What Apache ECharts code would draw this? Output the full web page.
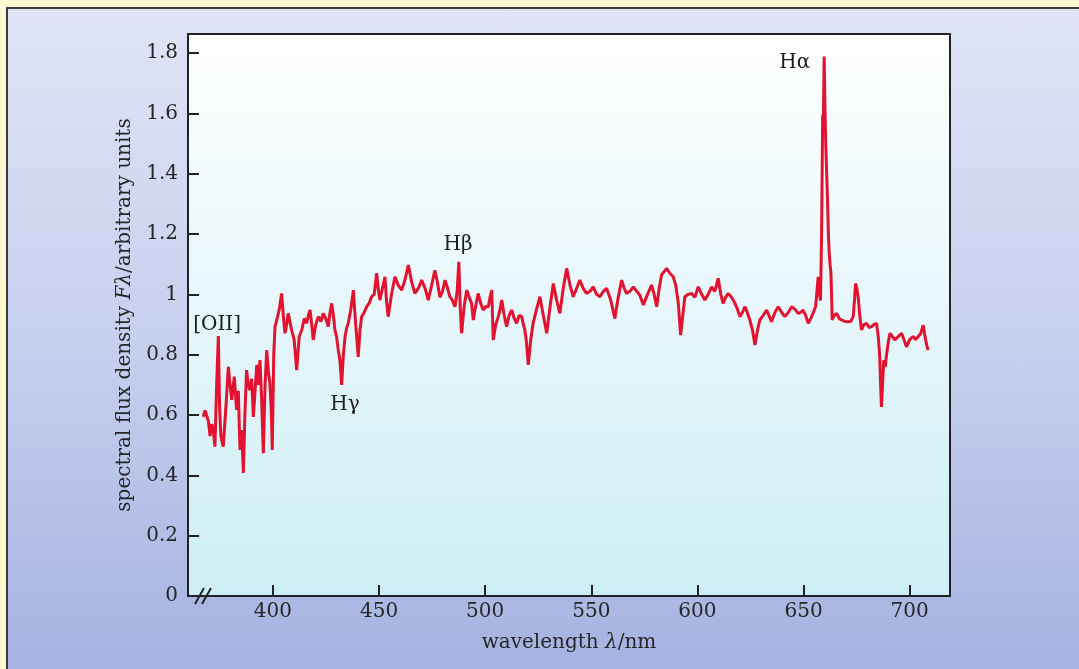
<!DOCTYPE html>
<html>
<head>
<meta charset="utf-8">
<script src="https://cdn.jsdelivr.net/npm/echarts@6/dist/echarts.min.js"></script>
<style>
html,body{margin:0;padding:0;width:1079px;height:669px;overflow:hidden;background:#fcf8cf;}
#panel{position:absolute;left:6px;top:7px;width:1090px;height:680px;border-left:2px solid #3a3a3a;border-top:2px solid #3a3a3a;background:linear-gradient(to bottom,#e0e4f6 0%,#c6cfee 50%,#a3b1e1 100%);}
#chart{position:absolute;left:0;top:0;width:1079px;height:669px;}
</style>
</head>
<body>
<div id="panel"></div>
<div id="chart"></div>
<script>
// wavelength in nm
const wavelength = [
367.2,368.0,368.8,369.6,370.4,371.2,371.9,372.7,373.5,374.3,374.9,375.5,376.6,377.8,379.0,379.8,380.6,381.8,382.9,383.7,
384.5,385.3,386.1,386.8,387.6,388.4,389.2,390.0,390.8,391.6,392.4,393.1,393.9,394.7,395.5,396.3,397.1,397.9,398.6,399.2,
399.7,400.4,401.0,402.0,403.0,404.1,404.9,405.7,406.5,407.2,408.0,408.8,410.0,411.2,412.4,413.6,414.8,415.9,416.7,417.5,
418.3,419.0,420.2,421.4,422.6,423.7,424.9,426.1,426.9,427.7,428.5,429.2,430.0,430.8,431.6,432.4,433.2,434.0,434.8,435.5,
436.7,437.9,439.0,440.2,441.0,441.8,443.0,444.2,445.3,446.5,447.7,448.9,449.6,450.4,451.6,452.8,453.5,454.3,455.9,457.5,
459.1,460.7,462.3,463.8,465.4,466.9,468.5,470.1,471.7,473.2,474.8,476.3,477.5,478.7,479.9,481.1,482.3,483.4,484.6,485.8,
486.8,487.6,488.3,488.9,490.1,491.3,492.5,493.6,494.4,495.5,496.7,497.9,499.1,500.3,501.5,502.3,503.1,503.8,505.0,506.2,
507.0,507.8,509.0,510.1,511.3,512.5,513.7,514.8,516.0,517.2,518.0,518.7,519.5,520.3,521.5,522.6,524.2,525.8,527.4,529.0,
530.6,532.1,533.7,535.2,536.8,538.4,540.0,541.5,543.1,544.6,546.2,547.8,549.4,550.9,552.5,554.1,555.7,557.2,559.2,561.1,
562.7,564.3,565.5,566.6,568.2,569.8,571.4,572.9,574.5,576.5,578.4,579.6,580.8,582.0,583.1,585.5,587.0,588.6,589.8,591.0,
592.1,593.1,594.1,595.7,597.3,598.8,600.4,602.0,603.5,605.1,606.7,608.2,609.8,611.0,612.1,613.3,614.5,616.1,617.7,618.9,
620.0,621.2,622.4,623.5,624.7,626.0,627.1,628.3,629.4,631.0,632.6,633.7,634.9,636.5,638.1,639.7,641.2,642.8,644.4,646.0,
647.5,648.7,649.8,651.0,652.2,653.4,654.5,655.7,656.9,657.5,658.0,658.5,659.0,659.4,659.7,660.1,660.5,660.9,661.3,661.7,
662.1,662.5,662.9,663.2,663.5,664.5,665.6,666.8,667.9,669.5,671.0,672.2,673.4,674.0,674.5,675.1,675.7,676.5,677.3,678.5,
679.7,680.9,682.0,683.2,684.4,685.2,685.9,686.3,686.7,687.2,687.8,688.5,689.1,689.9,690.7,691.9,693.0,694.6,696.2,697.3,
698.5,700.0,701.6,702.8,704.0,705.2,706.4,707.0,707.5,708.1,708.7
];
// spectral flux density (arbitrary units)
const flux = [
0.594,0.615,0.620,0.580,0.530,0.570,0.550,0.495,0.700,0.862,0.620,0.530,0.495,0.620,0.760,0.700,0.650,0.727,0.617,0.680,
0.484,0.550,0.408,0.600,0.749,0.700,0.683,0.720,0.594,0.680,0.766,0.700,0.782,0.650,0.473,0.700,0.815,0.740,0.705,0.620,
0.484,0.800,0.893,0.920,0.950,1.003,0.930,0.871,0.900,0.937,0.910,0.882,0.850,0.749,0.860,0.882,0.920,0.904,0.930,0.948,
0.900,0.849,0.900,0.926,0.910,0.937,0.920,0.893,0.940,0.970,0.930,0.882,0.860,0.815,0.780,0.700,0.800,0.860,0.890,0.904,
0.950,1.014,0.900,0.793,0.880,0.926,0.940,0.959,0.970,0.992,1.000,1.070,1.020,0.981,1.020,1.058,0.980,0.926,1.000,1.058,
1.030,1.014,1.050,1.097,1.040,1.003,1.020,1.047,1.020,0.981,1.030,1.080,1.040,0.990,1.010,1.047,1.020,0.992,0.980,0.959,
1.010,1.108,0.950,0.871,0.960,1.014,0.990,0.970,0.915,0.960,1.003,0.970,0.948,0.960,0.959,0.990,1.014,0.849,0.900,0.926,
0.950,0.981,0.930,0.893,0.930,0.948,0.920,0.904,0.930,0.926,0.900,0.882,0.840,0.766,0.850,0.904,0.950,0.992,0.930,0.871,
0.960,1.036,0.980,0.937,1.020,1.086,1.030,0.992,1.020,1.047,1.020,1.003,1.010,1.025,1.000,0.992,1.010,1.020,0.980,0.920,
0.990,1.047,1.020,1.003,1.010,1.025,1.010,0.997,0.965,1.000,1.031,1.000,0.959,1.020,1.064,1.086,1.070,1.058,1.030,0.970,
0.865,0.930,0.992,1.000,1.003,0.990,1.025,1.000,0.981,1.000,1.025,1.010,1.053,1.000,0.970,0.990,1.003,0.990,0.970,0.950,
0.926,0.940,0.959,0.940,0.915,0.880,0.832,0.880,0.915,0.930,0.948,0.930,0.909,0.940,0.959,0.940,0.926,0.940,0.959,0.950,
0.937,0.940,0.948,0.930,0.904,0.920,0.937,0.960,1.058,1.000,0.980,1.200,1.589,1.600,1.788,1.620,1.489,1.400,1.313,1.200,
1.136,1.100,1.070,1.000,0.915,0.930,0.937,0.920,0.915,0.910,0.909,0.910,0.926,0.980,1.036,1.020,0.992,0.930,0.882,0.900,
0.904,0.890,0.893,0.900,0.904,0.860,0.793,0.700,0.627,0.700,0.782,0.760,0.800,0.840,0.871,0.860,0.849,0.860,0.871,0.850,
0.826,0.850,0.860,0.850,0.860,0.870,0.898,0.870,0.850,0.830,0.815
];
const xTicks = [400, 450, 500, 550, 600, 650, 700];
const yTicks = [0, 0.2, 0.4, 0.6, 0.8, 1, 1.2, 1.4, 1.6, 1.8];
const lineNames = ['[OII]', 'Hγ', 'Hβ', 'Hα'];
const lineNameX = [373.7, 434.0, 487.2, 645.9];
const lineNameY = [0.898, 0.633, 1.163, 1.767];

const FONT = 'DejaVu Serif';
const FS = 20;
const TXT = '#262626';
const chart = echarts.init(document.getElementById('chart'), null, {renderer: 'canvas'});
const spectrum = wavelength.map((w, i) => [w, flux[i]]);
const labels = lineNames.map((n, i) => ({name: n, value: [lineNameX[i], lineNameY[i]]}));

chart.setOption({
  backgroundColor: 'transparent',
  animation: false,
  grid: {
    left: 188, right: 129, top: 34, bottom: 73,
    show: true,
    borderColor: '#222', borderWidth: 2,
    backgroundColor: {type: 'linear', x: 0, y: 0, x2: 0, y2: 1,
      colorStops: [{offset: 0, color: '#ffffff'}, {offset: 1, color: '#cdeef6'}]}
  },
  xAxis: {
    type: 'value', min: 360, max: 719,
    axisLine: {show: true, lineStyle: {color: '#222', width: 2}},
    axisTick: {show: true, inside: true, length: 11, customValues: xTicks, lineStyle: {color: '#222', width: 2}},
    axisLabel: {customValues: xTicks, fontFamily: FONT, fontSize: FS, color: TXT, margin: 6},
    splitLine: {show: false},
    name: 'wavelength {i|λ}/nm', nameLocation: 'middle', nameGap: 37,
    nameTextStyle: {fontFamily: FONT, fontSize: FS, color: TXT,
      rich: {i: {fontFamily: FONT, fontSize: FS, fontStyle: 'italic', color: TXT}}}
  },
  yAxis: {
    type: 'value', min: 0, max: 1.863,
    axisLine: {show: true, lineStyle: {color: '#222', width: 2}},
    axisTick: {show: true, inside: true, length: 11, customValues: yTicks, lineStyle: {color: '#222', width: 2}},
    axisLabel: {customValues: yTicks, fontFamily: FONT, fontSize: FS, color: TXT, margin: 10},
    splitLine: {show: false},
    name: 'spectral flux density {i|Fλ}/arbitrary units', nameLocation: 'middle', nameGap: 53,
    nameTextStyle: {fontFamily: FONT, fontSize: FS, color: TXT,
      rich: {i: {fontFamily: FONT, fontSize: FS, fontStyle: 'italic', color: TXT}}}
  },
  series: [
    {
      type: 'line', data: spectrum, showSymbol: false, symbol: 'none',
      lineStyle: {color: '#e3122f', width: 3}, z: 3
    },
    {
      type: 'scatter', data: labels, symbolSize: 0,
      itemStyle: {color: '#222', opacity: 1},
      label: {show: true, position: 'inside', formatter: '{b}', fontFamily: FONT, fontSize: FS,
        color: '#1e1e1e', textBorderWidth: 0, opacity: 1},
      emphasis: {disabled: true},
      z: 4
    }
  ],
  graphic: [
    {type: 'line', shape: {x1: 195, y1: 604, x2: 204, y2: 588}, style: {stroke: '#222', lineWidth: 2}, z: 100},
    {type: 'line', shape: {x1: 202, y1: 604, x2: 211, y2: 588}, style: {stroke: '#222', lineWidth: 2}, z: 100}
  ]
});
</script>
</body>
</html>
